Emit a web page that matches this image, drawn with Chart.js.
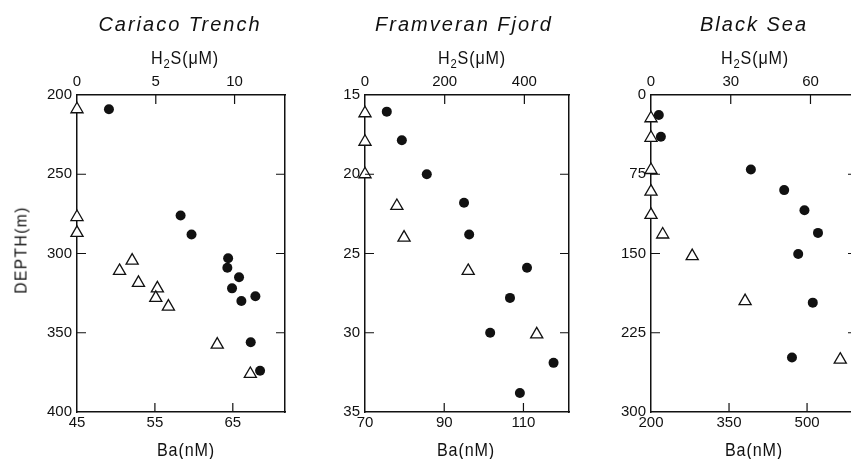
<!DOCTYPE html>
<html>
<head>
<meta charset="utf-8">
<script src="https://cdn.jsdelivr.net/npm/chart.js@4.4.1/dist/chart.umd.min.js"></script>
<style>
html,body{margin:0;padding:0;background:#fff;overflow:hidden;}
body{width:851px;height:459px;position:relative;}
canvas{position:absolute;top:0;}
.lbl{position:absolute;color:#111;white-space:nowrap;line-height:1;
     font-family:'Liberation Sans',sans-serif;transform:translateX(-50%);}
.ttl{font-style:italic;font-size:20px;letter-spacing:2px;top:14px;}
.top{font-size:19px;letter-spacing:1px;top:48px;transform:translateX(-50%) scaleX(0.85);}
.bot{font-size:19px;letter-spacing:1px;top:440px;transform:translateX(-50%) scaleX(0.85);}
.sub{font-size:0.7em;position:relative;top:0.3em;line-height:0;}
.depth{font-size:17px;letter-spacing:1.5px;left:21px;top:250px;transform:translate(-50%,-50%) rotate(-90deg) scaleX(0.92);}
</style>
</head>
<body>
<canvas id="c1" width="300" height="459" style="left:0px"></canvas>
<canvas id="c2" width="285" height="459" style="left:300px"></canvas>
<canvas id="c3" width="290" height="459" style="left:585px"></canvas>

<div class="lbl ttl" style="left:180px">Cariaco Trench</div>
<div class="lbl ttl" style="left:464px">Framveran Fjord</div>
<div class="lbl ttl" style="left:754px">Black Sea</div>

<div class="lbl top" style="left:185px">H<span class="sub">2</span>S(μM)</div>
<div class="lbl top" style="left:472px">H<span class="sub">2</span>S(μM)</div>
<div class="lbl top" style="left:755px">H<span class="sub">2</span>S(μM)</div>

<div class="lbl bot" style="left:186px">Ba(nM)</div>
<div class="lbl bot" style="left:466px">Ba(nM)</div>
<div class="lbl bot" style="left:754px">Ba(nM)</div>

<div class="lbl depth">DEPTH(m)</div>

<script>
// Cariaco Trench
const cariacoBaDepth = [209, 276, 288, 303, 309, 315, 322, 330, 327, 356, 374];
const cariacoBa = [49.1, 58.3, 59.7, 64.4, 64.3, 65.8, 64.9, 66.1, 67.9, 67.3, 68.5];
const cariacoH2SDepth = [209, 277, 287, 304.5, 311, 318.5, 322, 328, 333.5, 357.5, 376];
const cariacoH2S = [0, 0, 0, 3.5, 2.7, 3.9, 5.1, 5.0, 5.8, 8.9, 11.0];
const cariacoDepthTicks = [200, 250, 300, 350, 400];
const cariacoBaTicks = [45, 55, 65];
const cariacoH2STicks = [0, 5, 10];

// Framveran Fjord
const fjordBaDepth = [16.05, 17.85, 20.0, 21.8, 23.8, 25.9, 27.8, 30.0, 31.9, 33.8];
const fjordBa = [75.5, 79.3, 85.6, 95.0, 96.3, 110.9, 106.6, 101.6, 117.6, 109.1];
const fjordH2SDepth = [16.15, 17.95, 20.0, 22.0, 24.0, 26.1, 30.1];
const fjordH2S = [0, 0, 0, 80, 98, 259, 431];
const fjordDepthTicks = [15, 20, 25, 30, 35];
const fjordBaTicks = [70, 90, 110];
const fjordH2STicks = [0, 200, 400];

// Black Sea
const blackBaDepth = [19, 39.5, 70.5, 90, 109, 130.5, 150.5, 196.5, 248.5];
const blackBa = [215, 219, 392, 456, 495, 521, 483, 511, 471];
const blackH2SDepth = [22, 40.5, 71, 91.5, 113.5, 132, 152.5, 195, 250.5];
const blackH2S = [0, 0, 0, 0, 0, 4.4, 15.5, 35.4, 71.2];
const blackDepthTicks = [0, 75, 150, 225, 300];
const blackBaTicks = [200, 350, 500];
const blackH2STicks = [0, 30, 60];

const ink = '#111';
const tickFont = {family:"'Liberation Sans',sans-serif", size:15};

// ticks pointing into the box, on all four sides
const innerTicks = {
    id:'innerTicks',
    afterDraw(chart){
        const {ctx, chartArea:a, scales} = chart;
        const len = 9;
        ctx.save();
        ctx.strokeStyle = ink; ctx.lineWidth = 1.2;
        ctx.beginPath();
        scales.x.ticks.forEach(t=>{
            const px = scales.x.getPixelForValue(t.value);
            if(px > a.left+2 && px < a.right-2){ ctx.moveTo(px, a.bottom); ctx.lineTo(px, a.bottom-len); }
        });
        scales.x2.ticks.forEach(t=>{
            const px = scales.x2.getPixelForValue(t.value);
            if(px > a.left+2 && px < a.right-2){ ctx.moveTo(px, a.top); ctx.lineTo(px, a.top+len); }
        });
        scales.y.ticks.forEach(t=>{
            const py = scales.y.getPixelForValue(t.value);
            if(py > a.top+2 && py < a.bottom-2){
                ctx.moveTo(a.left, py); ctx.lineTo(a.left+len, py);
                ctx.moveTo(a.right, py); ctx.lineTo(a.right-len, py);
            }
        });
        ctx.stroke();
        ctx.restore();
    }
};

function hAxis(position, min, max, ticks, h, pad){
    return {
        type:'linear', position, min, max,
        grid:{display:false, drawTicks:false},
        border:{display:true, color:ink, width:1.5},
        ticks:{color:ink, font:tickFont, padding:pad, maxRotation:0, autoSkip:false},
        afterBuildTicks: s=>{ s.ticks = ticks.map(v=>({value:v})); },
        afterFit: s=>{ s.height = h; }
    };
}
function vAxis(position, min, max, ticks, w, show){
    return {
        type:'linear', position, min, max, reverse:true,
        grid:{display:false, drawTicks:false},
        border:{display:true, color:ink, width:1.5},
        ticks:{display:show, color:ink, font:tickFont, padding:5, autoSkip:false},
        afterBuildTicks: s=>{ s.ticks = ticks.map(v=>({value:v})); },
        afterFit: s=>{ s.width = w; }
    };
}

function makePanel(id, p){
    const pts = (xs, ys)=>xs.map((v,i)=>({x:v, y:ys[i]}));
    return new Chart(document.getElementById(id), {
        type:'scatter',
        data:{datasets:[
            {label:'H2S', xAxisID:'x2', yAxisID:'y', data:pts(p.h2s, p.h2sDepth),
             pointStyle:'triangle', radius:7, backgroundColor:'#fff', borderColor:ink, borderWidth:1.3, clip:false},
            {label:'Ba', xAxisID:'x', yAxisID:'y', data:pts(p.ba, p.baDepth),
             pointStyle:'circle', radius:5, backgroundColor:ink, borderWidth:0, clip:false}
        ]},
        options:{
            responsive:false, animation:false, events:[],
            layout:{padding:0},
            plugins:{legend:{display:false}, tooltip:{enabled:false}},
            scales:{
                x: hAxis('bottom', p.baRange[0], p.baRange[1], p.baTicks, 47, 2),
                x2: hAxis('top', p.h2sRange[0], p.h2sRange[1], p.h2sTicks, 95, 4),
                y: vAxis('left', p.depthRange[0], p.depthRange[1], p.depthTicks, p.leftW, true),
                y2: vAxis('right', p.depthRange[0], p.depthRange[1], p.depthTicks, p.rightW, false)
            }
        },
        plugins:[innerTicks]
    });
}

makePanel('c1', {
    ba:cariacoBa, baDepth:cariacoBaDepth, h2s:cariacoH2S, h2sDepth:cariacoH2SDepth,
    baRange:[45, 71.7], h2sRange:[0, 13.2], depthRange:[200, 400],
    baTicks:cariacoBaTicks, h2sTicks:cariacoH2STicks, depthTicks:cariacoDepthTicks,
    leftW:77, rightW:15
});
makePanel('c2', {
    ba:fjordBa, baDepth:fjordBaDepth, h2s:fjordH2S, h2sDepth:fjordH2SDepth,
    baRange:[70, 121.5], h2sRange:[0, 512], depthRange:[15, 35],
    baTicks:fjordBaTicks, h2sTicks:fjordH2STicks, depthTicks:fjordDepthTicks,
    leftW:65, rightW:16
});
makePanel('c3', {
    ba:blackBa, baDepth:blackBaDepth, h2s:blackH2S, h2sDepth:blackH2SDepth,
    baRange:[200, 596], h2sRange:[0, 77.5], depthRange:[0, 300],
    baTicks:blackBaTicks, h2sTicks:blackH2STicks, depthTicks:blackDepthTicks,
    leftW:66, rightW:18
});
</script>
</body>
</html>
